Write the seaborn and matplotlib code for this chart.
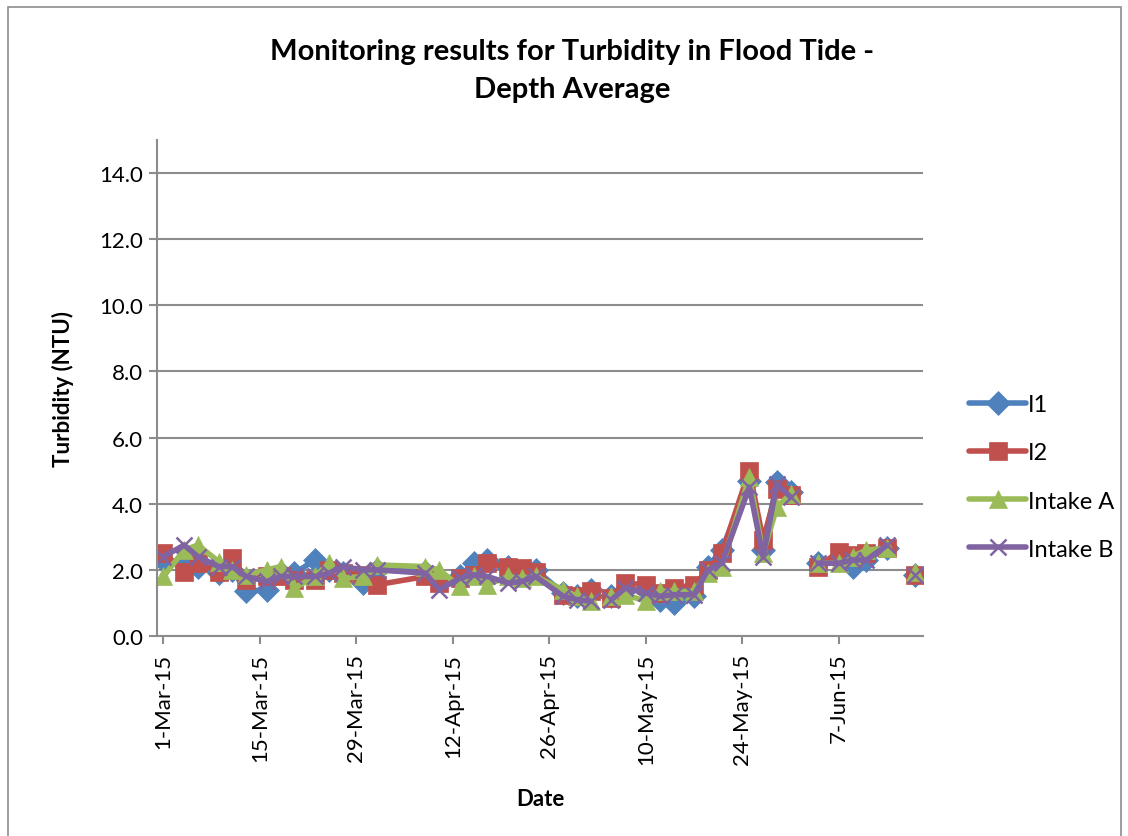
import pandas as pd
import numpy as np
import matplotlib
matplotlib.use('Agg')
import matplotlib.pyplot as plt
from matplotlib.lines import Line2D
from matplotlib.patches import Rectangle
import seaborn as sns

# -----------------------------
# Data
# -----------------------------
dates = ['2015-03-01', '2015-03-04', '2015-03-06', '2015-03-09', '2015-03-11', '2015-03-13',
         '2015-03-16', '2015-03-18', '2015-03-20', '2015-03-23', '2015-03-25', '2015-03-27',
         '2015-03-30', '2015-04-01', '2015-04-08', '2015-04-10', '2015-04-13', '2015-04-15',
         '2015-04-17', '2015-04-20', '2015-04-22', '2015-04-24', '2015-04-28', '2015-04-30',
         '2015-05-02', '2015-05-03', '2015-05-05', '2015-05-07', '2015-05-10', '2015-05-12',
         '2015-05-14', '2015-05-17', '2015-05-19', '2015-05-21', '2015-05-25', '2015-05-27',
         '2015-05-29', '2015-05-31', '2015-06-02', '2015-06-04', '2015-06-07', '2015-06-09',
         '2015-06-11', '2015-06-14', '2015-06-16', '2015-06-18']

nan = np.nan
i1 = [2.3, 2.2, 2.1, 1.9, 2.0, 1.35, 1.4, 1.9, 1.9, 2.3, 2.0, 1.9,
      1.6, 2.0, 1.95, 1.7, 1.8, 2.2, 2.3, 2.1, 1.9, 2.0, 1.3, 1.2,
      1.4, nan, 1.2, 1.4, 1.4, 1.1, 1.0, 1.2, 2.1, 2.6, 4.7, 2.6,
      4.65, 4.35, nan, 2.2, 2.3, 2.1, 2.3, 2.65, nan, 1.85]
i2 = [2.5, 1.95, 2.2, 1.95, 2.35, 1.7, 1.8, 1.8, 1.7, 1.7, 2.0, 1.9,
      1.85, 1.55, 1.8, 1.6, 1.75, 1.85, 2.2, 2.1, 2.05, 1.95, 1.25, 1.2,
      1.35, nan, 1.15, 1.6, 1.55, 1.3, 1.45, 1.55, 2.0, 2.5, 5.0, 2.9,
      4.45, 4.25, nan, 2.1, 2.55, 2.45, 2.5, 2.65, nan, 1.85]
intake_a = [1.8, 2.6, 2.75, 2.25, 2.0, 1.85, 2.0, 2.1, 1.45, 1.8, 2.2, 1.75,
            1.8, 2.15, 2.1, 2.0, 1.5, 1.8, 1.55, 1.8, 1.75, 1.8, 1.4, 1.2,
            1.05, nan, 1.2, 1.25, 1.05, 1.35, 1.35, 1.35, 1.9, 2.1, 4.8, 2.5,
            3.9, 4.3, nan, 2.2, 2.2, 2.4, 2.6, 2.65, nan, 1.95]
intake_b = [2.4, 2.75, 2.4, 2.1, 2.1, 1.8, 1.65, 1.8, 1.8, 1.8, 1.9, 2.1,
            2.0, 2.0, 1.9, 1.4, 1.75, 1.85, 1.8, 1.6, 1.65, 1.8, 1.2, 1.1,
            1.05, nan, 1.1, 1.45, 1.3, 1.2, 1.25, 1.25, 2.0, 2.2, 4.5, 2.4,
            4.6, 4.2, nan, 2.2, 2.2, 2.3, 2.3, 2.75, nan, 1.85]

series_names = ['I1', 'I2', 'Intake A', 'Intake B']
series_values = [i1, i2, intake_a, intake_b]
tick_dates = ['2015-03-01', '2015-03-15', '2015-03-29', '2015-04-12',
              '2015-04-26', '2015-05-10', '2015-05-24', '2015-06-07']
tick_labels = ['1-Mar-15', '15-Mar-15', '29-Mar-15', '12-Apr-15',
               '26-Apr-15', '10-May-15', '24-May-15', '7-Jun-15']

colors = ['#4F81BD', '#C0504D', '#9BBB59', '#8064A2']
markers = ['D', 's', '^', 'x']
msizes = [12, 12.5, 13.5, 12]

# long form table, with a segment id so gaps (NaN) break the lines
frames = []
for name, vals in zip(series_names, series_values):
    d = pd.DataFrame({'date': pd.to_datetime(dates), 'value': vals})
    d['seg'] = d['value'].isna().cumsum()
    d = d.dropna()
    d['series'] = name
    frames.append(d)
df = pd.concat(frames, ignore_index=True)

# -----------------------------
# Plot
# -----------------------------
sns.set_style('white')
plt.rcParams['font.family'] = ['Lato', 'DejaVu Sans']
plt.rcParams['text.color'] = 'black'
plt.rcParams['axes.labelcolor'] = 'black'
plt.rcParams['xtick.color'] = 'black'
plt.rcParams['ytick.color'] = 'black'

fig = plt.figure(figsize=(11.28, 8.37), dpi=100)
ax = fig.add_axes([157 / 1128, 1 - 637 / 837, (923 - 157) / 1128, (637 - 141) / 837])

for name, col, mk, ms in zip(series_names, colors, markers, msizes):
    sub = df[df['series'] == name]
    sns.lineplot(data=sub, x='date', y='value', units='seg', estimator=None,
                 color=col, marker=mk, markersize=ms, linewidth=4,
                 markeredgecolor=col, markeredgewidth=1.8 if mk == 'x' else 0.5,
                 ax=ax, legend=False)

ax.set_ylim(0, 15)
ax.set_yticks(np.arange(0, 15, 2.0))
ax.set_yticklabels([f'{v:.1f}' for v in np.arange(0, 15, 2.0)], fontsize=16)
ax.yaxis.grid(True, color='#8c8c8c', linewidth=1.5)
ax.xaxis.grid(False)

start = pd.Timestamp('2015-03-01')
ax.set_xlim(start - pd.Timedelta(days=0.94), start + pd.Timedelta(days=110.2))
ax.set_xticks(pd.to_datetime(tick_dates))
ax.set_xticklabels(tick_labels, rotation=90, fontsize=16)

for side in ['top', 'right']:
    ax.spines[side].set_visible(False)
for side in ['left', 'bottom']:
    ax.spines[side].set_color('#8c8c8c')
    ax.spines[side].set_linewidth(1.5)
ax.tick_params(axis='y', which='both', left=True, length=6, color='#8c8c8c',
               labelcolor='black', width=1.5, pad=4)
ax.tick_params(axis='x', which='both', bottom=True, length=6, color='#8c8c8c',
               labelcolor='black', width=1.5, pad=6)

ax.set_xlabel('Date', fontsize=16, fontweight='bold', labelpad=17)
ax.set_ylabel('Turbidity (NTU)', fontsize=16, fontweight='bold', labelpad=18)

fig.text(572 / 1128, 1 - 52 / 837, 'Monitoring results for Turbidity in Flood Tide -',
         ha='center', va='center', fontsize=21, fontweight='bold', color='black')
fig.text(572 / 1128, 1 - 90 / 837, 'Depth Average',
         ha='center', va='center', fontsize=21, fontweight='bold', color='black')

handles = [Line2D([0], [0], color=c, marker=m, markersize=s, linewidth=4,
                  markeredgecolor=c, markeredgewidth=1.8 if m == 'x' else 0.5)
           for c, m, s in zip(colors, markers, msizes)]
fig.legend(handles, series_names, loc='center left', bbox_to_anchor=(948 / 1128, 1 - 478 / 837),
           frameon=False, fontsize=17, handlelength=2.4, handletextpad=0.1, labelspacing=1.15)

# chart border
fig.patches.append(Rectangle((8 / 1128, -0.02), (1121 - 8) / 1128, 1.02 - 8 / 837,
                             transform=fig.transFigure, fill=False, edgecolor='#8c8c8c', linewidth=1.2))

fig.savefig('out.png', dpi=100)
